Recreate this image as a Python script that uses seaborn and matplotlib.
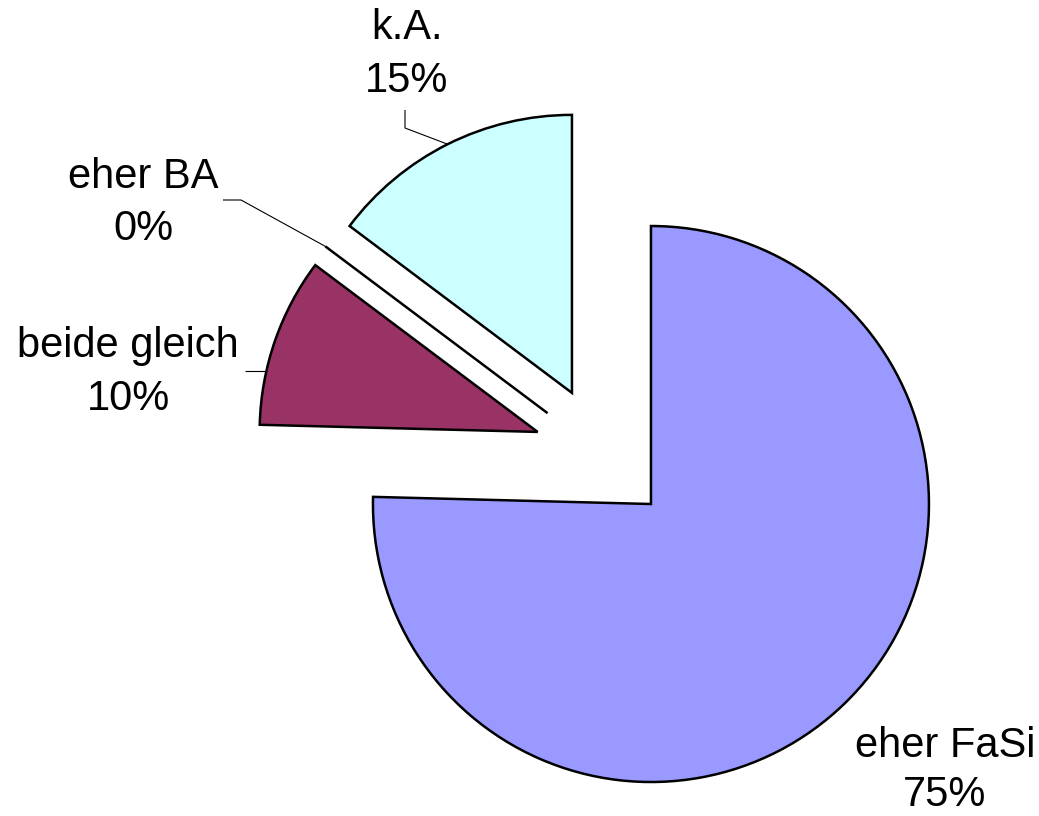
import numpy as np
import matplotlib
matplotlib.use("Agg")
import matplotlib.pyplot as plt
import seaborn as sns

# ---- data ----
categories = ["eher FaSi", "beide gleich", "eher BA", "k.A."]
counts = [46, 6, 0, 9]
colors = ["#9999FF", "#993366", "#FFFFCC", "#CCFFFF"]

sns.set_theme(style="white")
plt.rcParams["font.family"] = ["Liberation Sans", "DejaVu Sans"]

W, H = 1039, 816
fig = plt.figure(figsize=(W / 100, H / 100), dpi=100)
ax = fig.add_axes([0, 0, 1, 1])

def py(y):
    """pixel row -> data y"""
    return H - y

center = (602.8, py(454.6))
radius = 278
explode = [69] * len(counts)

wedges, _ = ax.pie(
    counts,
    colors=colors,
    startangle=90,
    counterclock=False,
    explode=explode,
    radius=radius,
    center=center,
    wedgeprops=dict(edgecolor="black", linewidth=1.8),
)
ax.set_xlim(0, W)
ax.set_ylim(0, H)
ax.set_aspect("equal")
ax.axis("off")

total = sum(counts)
pct = [f"{round(100 * c / total)}%" for c in counts]

# label layout: x center, baseline of name, baseline of percentage (pixels)
label_pos = {
    "eher FaSi": (945, 757, 806),
    "beide gleich": (128, 357, 410),
    "eher BA": (143, 188, 240),
    "k.A.": (407, 39, 92),
}
fs = 30
for cat, p in zip(categories, pct):
    x, b1, b2 = label_pos[cat]
    ax.text(x, py(b1), cat, ha="center", va="baseline", fontsize=fs, color="black")
    ax.text(x, py(b2), p, ha="center", va="baseline", fontsize=fs, color="black")

# leader lines: attach to wedge arc, then through elbow points (pixels)
def arc_point(w, ang):
    cx, cy = w.center
    a = np.deg2rad(ang)
    return cx + w.r * np.cos(a), cy + w.r * np.sin(a)

leaders = {
    "k.A.": [(405, 110), (405, 128)],
    "eher BA": [(223, 200), (241, 200)],
    "beide gleich": [(245, 371)],
}
for cat, pts in leaders.items():
    i = categories.index(cat)
    w = wedges[i]
    if cat == "beide gleich":
        # horizontal leader meeting the arc
        cx, cy = w.center
        yy = py(pts[0][1])
        xx = cx - np.sqrt(w.r ** 2 - (yy - cy) ** 2)
        end = (xx, yy)
    else:
        end = arc_point(w, 0.5 * (w.theta1 + w.theta2))
    xs = [p[0] for p in pts] + [end[0]]
    ys = [py(p[1]) for p in pts] + [end[1]]
    ax.plot(xs, ys, color="black", linewidth=0.8, solid_capstyle="butt")

fig.savefig("out.png", dpi=100, facecolor="white")
